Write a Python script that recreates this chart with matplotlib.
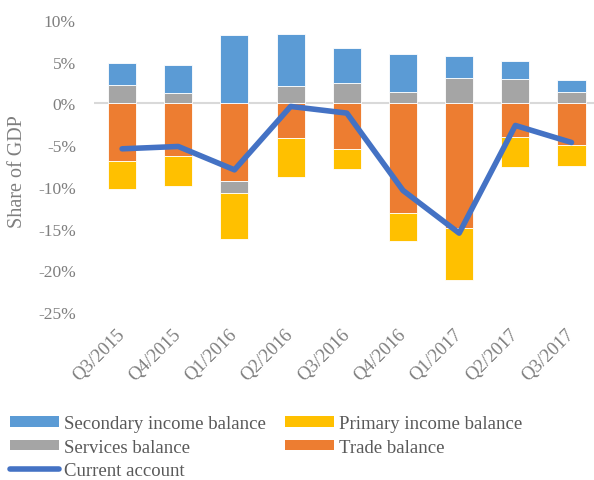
import numpy as np
import matplotlib
matplotlib.use("Agg")
import matplotlib.pyplot as plt
from matplotlib.patches import Patch
from matplotlib.lines import Line2D

quarters = ["Q3/2015", "Q4/2015", "Q1/2016", "Q2/2016", "Q3/2016",
            "Q4/2016", "Q1/2017", "Q2/2017", "Q3/2017"]
trade = [-6.96, -6.28, -9.32, -4.20, -5.48, -13.15, -14.95, -4.04, -4.96]
services = [2.16, 1.24, -1.44, 2.08, 2.43, 1.32, 3.03, 2.91, 1.35]
primary = [-3.28, -3.60, -5.47, -4.56, -2.36, -3.32, -6.27, -3.63, -2.56]
secondary = [2.67, 3.32, 8.23, 6.27, 4.17, 4.59, 2.61, 2.13, 1.48]
current = [-5.44, -5.16, -7.96, -0.36, -1.16, -10.43, -15.55, -2.64, -4.68]

y_ticks = [10, 5, 0, -5, -10, -15, -20, -25]

series = [
    ("Trade balance", trade, "#ED7D31"),
    ("Services balance", services, "#A5A5A5"),
    ("Primary income balance", primary, "#FFC000"),
    ("Secondary income balance", secondary, "#5B9BD5"),
]

plt.rcParams["font.family"] = ["Liberation Serif", "DejaVu Serif"]

W, H = 594, 481
fig = plt.figure(figsize=(W / 100, H / 100), dpi=100)
ax = fig.add_axes([94 / W, 1 - 313 / H, (W - 94) / W, (313 - 21) / H])

x = np.arange(len(quarters))
pos_bottom = np.zeros(len(quarters))
neg_bottom = np.zeros(len(quarters))
for name, vals, col in series:
    v = np.array(vals, dtype=float)
    bottom = np.where(v >= 0, pos_bottom, neg_bottom)
    ax.bar(x, v, width=0.5, bottom=bottom, color=col, edgecolor="white",
           linewidth=0.6, zorder=2)
    pos_bottom = pos_bottom + np.where(v >= 0, v, 0)
    neg_bottom = neg_bottom + np.where(v < 0, v, 0)

ax.axhline(0, color="#D9D9D9", linewidth=1.5, zorder=1)
ax.plot(x, current, color="#4472C4", linewidth=4, solid_capstyle="round",
        solid_joinstyle="round", zorder=3)

ax.set_xlim(-0.5, 8.4)
ax.set_ylim(-25, 10)
ax.set_yticks(y_ticks)
ax.set_yticklabels([f"{t}%" for t in y_ticks])
ax.set_xticks(x)
ax.set_xticklabels(quarters, rotation=45, ha="right", va="center",
                   rotation_mode="anchor")
for s in ax.spines.values():
    s.set_visible(False)
ax.tick_params(axis="y", length=0, pad=13, labelsize=12.5, labelcolor="#7F7F7F")
ax.tick_params(axis="x", length=0, pad=14, labelsize=13.5, labelcolor="#7F7F7F")

fig.text(18 / W, 1 - 172 / H, "Share of GDP", rotation=90, ha="center",
         va="center", fontsize=14.5, color="#7F7F7F")

handles = [
    Patch(facecolor="#5B9BD5", label="Secondary income balance"),
    Patch(facecolor="#A5A5A5", label="Services balance"),
    Line2D([], [], color="#4472C4", linewidth=4, solid_capstyle="round",
           label="Current account"),
    Patch(facecolor="#FFC000", label="Primary income balance"),
    Patch(facecolor="#ED7D31", label="Trade balance"),
]
fig.legend(handles=handles, ncol=2, loc="upper left",
           bbox_to_anchor=(10 / W, 1 - 416 / H), frameon=False,
           fontsize=13.5, labelcolor="#595959", handlelength=2.6,
           handleheight=0.5, handletextpad=0.3, columnspacing=1.0,
           labelspacing=0.35, borderaxespad=0, borderpad=0)

fig.savefig("out.png", dpi=100)
